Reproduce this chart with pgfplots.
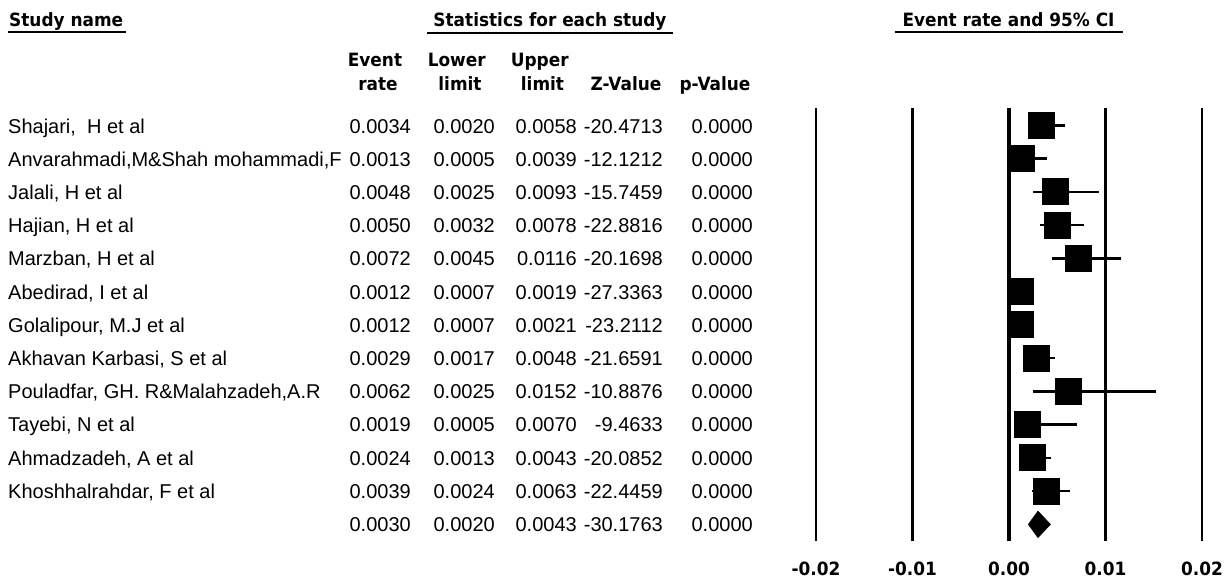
\documentclass[border=0pt]{standalone}
\usepackage{pgfplots}
\pgfplotsset{compat=1.18}
\usepackage{fontspec}
\setmainfont{Liberation Sans}
\newfontfamily\rowfont{Liberation Sans}
\newfontfamily\hdrfont{DejaVu Sans Bold}[FakeStretch=0.925]

% one study row of the table: index, name, rate, lower, upper, z, p
\newcommand\row[7]{%
  \pgfmathsetmacro\yb{133+(#1-1)*33.2}
  \node[anchor=base west] at (8,\yb) {#2};
  \node[anchor=base east] at (411,\yb) {#3};
  \node[anchor=base east] at (495,\yb) {#4};
  \node[anchor=base east] at (577,\yb) {#5};
  \node[anchor=base east] at (663,\yb) {#6};
  \node[anchor=base east] at (753,\yb) {#7};
}

\begin{document}
\begin{tikzpicture}
\path[use as bounding box] (0,0) rectangle (1231bp,-583bp);

% headers
\begin{scope}[x=1bp, y=-1bp, every node/.style={inner sep=0pt, font=\hdrfont\fontsize{18.3bp}{22bp}\selectfont}]
  \node[anchor=base west] at (9,26.7) {Study name};
  \node[anchor=base] at (550,26.7) {Statistics for each study};
  \node[anchor=base] at (1008.5,26.7) {Event rate and 95\% CI};
  \draw[line width=2bp] (8,32) -- (126,32);
  \draw[line width=2bp] (427,33) -- (673,33);
  \draw[line width=2bp] (895,32) -- (1123,32);
  \node[anchor=base] at (375,66.7) {Event};
  \node[anchor=base] at (378,90) {rate};
  \node[anchor=base] at (456.7,66.7) {Lower};
  \node[anchor=base] at (460,90) {limit};
  \node[anchor=base] at (539.7,66.7) {Upper};
  \node[anchor=base] at (542.5,90) {limit};
  \node[anchor=base] at (626,90) {Z-Value};
  \node[anchor=base] at (715,90) {p-Value};
\end{scope}

% table rows
\begin{scope}[x=1bp, y=-1bp, every node/.style={inner sep=0pt, font=\rowfont\fontsize{20bp}{24bp}\selectfont}]
  \row{1}{Shajari,~ H et al}{0.0034}{0.0020}{0.0058}{-20.4713}{0.0000}
  \row{2}{Anvarahmadi,M\&Shah mohammadi,F}{0.0013}{0.0005}{0.0039}{-12.1212}{0.0000}
  \row{3}{Jalali, H et al}{0.0048}{0.0025}{0.0093}{-15.7459}{0.0000}
  \row{4}{Hajian, H et al}{0.0050}{0.0032}{0.0078}{-22.8816}{0.0000}
  \row{5}{Marzban, H et al}{0.0072}{0.0045}{0.0116}{-20.1698}{0.0000}
  \row{6}{Abedirad, I et al}{0.0012}{0.0007}{0.0019}{-27.3363}{0.0000}
  \row{7}{Golalipour, M.J et al}{0.0012}{0.0007}{0.0021}{-23.2112}{0.0000}
  \row{8}{Akhavan Karbasi, S et al}{0.0029}{0.0017}{0.0048}{-21.6591}{0.0000}
  \row{9}{Pouladfar, GH. R\&Malahzadeh,A.R}{0.0062}{0.0025}{0.0152}{-10.8876}{0.0000}
  \row{10}{Tayebi, N et al}{0.0019}{0.0005}{0.0070}{-9.4633}{0.0000}
  \row{11}{Ahmadzadeh, A et al}{0.0024}{0.0013}{0.0043}{-20.0852}{0.0000}
  \row{12}{Khoshhalrahdar, F et al}{0.0039}{0.0024}{0.0063}{-22.4459}{0.0000}
  \row{13}{}{0.0030}{0.0020}{0.0043}{-30.1763}{0.0000}
\end{scope}

\begin{axis}[
    at={(816bp,-541bp)}, anchor=south west,
    scale only axis, width=386bp, height=433bp,
    xmin=-0.02, xmax=0.02,
    ymin=0.5, ymax=13.52,
    axis line style={draw=none},
    ytick=\empty,
    xtick={-0.02,-0.01,0,0.01,0.02},
    xticklabels={-0.02,-0.01,0.00,0.01,0.02},
    major tick length=0pt,
    xmajorgrids,
    major grid style={black, line width=2.5bp},
    xticklabel style={font=\hdrfont\fontsize{18.3bp}{22bp}\selectfont, anchor=base, yshift=-34.5bp, inner sep=0pt},
    clip=false,
]
% thick line at zero
\addplot[black, line width=4.5bp] coordinates {(0,0.5) (0,13.52)};

% studies: estimate, row (from bottom), upper-est, est-lower
\addplot[black, only marks, mark=square*, mark size=13bp, mark options={line width=0pt},
    error bars/.cd, x dir=both, x explicit, error mark=none,
    error bar style={line width=2.5bp}]
coordinates {
  (0.0034,13) += (0.0024,0) -= (0.0014,0)
  (0.0013,12) += (0.0026,0) -= (0.0008,0)
  (0.0048,11) += (0.0045,0) -= (0.0023,0)
  (0.0050,10) += (0.0028,0) -= (0.0018,0)
  (0.0072,9)  += (0.0044,0) -= (0.0027,0)
  (0.0012,8)  += (0.0007,0) -= (0.0005,0)
  (0.0012,7)  += (0.0009,0) -= (0.0005,0)
  (0.0029,6)  += (0.0019,0) -= (0.0012,0)
  (0.0062,5)  += (0.0090,0) -= (0.0037,0)
  (0.0019,4)  += (0.0051,0) -= (0.0014,0)
  (0.0024,3)  += (0.0019,0) -= (0.0011,0)
  (0.0039,2)  += (0.0024,0) -= (0.0015,0)
};

% pooled estimate
\addplot[black, fill=black, line width=0.5bp] coordinates {
  (0.0020,1) (0.0030,1.40) (0.0043,1) (0.0030,0.60) (0.0020,1)
};
\end{axis}
\end{tikzpicture}
\end{document}
